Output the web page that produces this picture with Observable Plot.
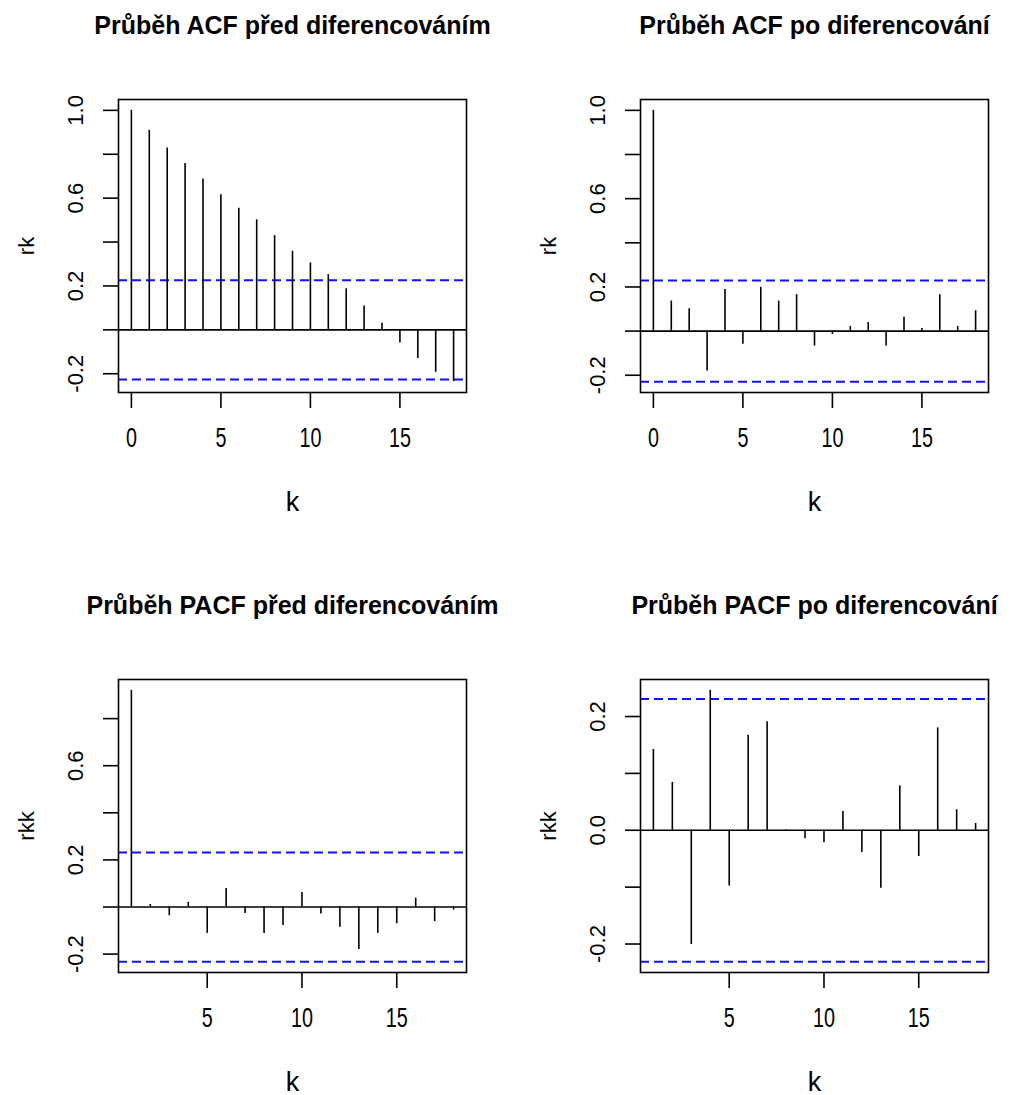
<!DOCTYPE html>
<html>
<head>
<meta charset="utf-8">
<script src="https://cdn.jsdelivr.net/npm/d3@7"></script>
<script src="https://cdn.jsdelivr.net/npm/@observablehq/plot@0.6"></script>
<style>
html, body { margin: 0; padding: 0; background: #fff; overflow: hidden; }
#root { position: relative; width: 1027px; height: 1095px; background: #fff; }
#root > svg { position: absolute; }
</style>
</head>
<body>
<div id="root"></div>
<script>
// ---- data ----
const titles = [
  "Průběh ACF před diferencováním",
  "Průběh ACF po diferencování",
  "Průběh PACF před diferencováním",
  "Průběh PACF po diferencování"
];
const yLabelAcf = "rk";
const yLabelPacf = "rkk";
const xLabel = "k";

const acfLags = [0, 1, 2, 3, 4, 5, 6, 7, 8, 9, 10, 11, 12, 13, 14, 15, 16, 17, 18];
const pacfLags = [1, 2, 3, 4, 5, 6, 7, 8, 9, 10, 11, 12, 13, 14, 15, 16, 17, 18];

const acfBefore = [1.000, 0.909, 0.829, 0.758, 0.687, 0.616, 0.554, 0.501, 0.429, 0.358,
                   0.305, 0.252, 0.187, 0.109, 0.030, -0.060, -0.130, -0.193, -0.236];
const acfAfter = [1.000, 0.136, 0.101, -0.181, 0.189, -0.060, 0.198, 0.136, 0.165, -0.068,
                  -0.015, 0.021, 0.039, -0.068, 0.063, 0.012, 0.165, 0.021, 0.092];
const pacfBefore = [0.920, 0.011, -0.037, 0.020, -0.112, 0.079, -0.028, -0.112, -0.079,
                    0.062, -0.030, -0.086, -0.180, -0.112, -0.071, 0.038, -0.062, -0.013];
const pacfAfter = [0.142, 0.084, -0.201, 0.246, -0.098, 0.167, 0.191, 0.001, -0.015,
                   -0.022, 0.033, -0.039, -0.102, 0.078, -0.046, 0.180, 0.036, 0.012];

// confidence bounds (blue dashed lines)
const climAcfBefore = 0.226;
const climAcfAfter = 0.229;
const climPacfBefore = 0.232;
const climPacfAfter = 0.231;

// tick values
const xTicksAcf = [0, 5, 10, 15];
const xTicksPacf = [5, 10, 15];
const yTicksAcf = [-0.2, 0, 0.2, 0.4, 0.6, 0.8, 1.0];
const yTickLabelsAcf = [-0.2, 0.2, 0.6, 1.0];
const yTicksPacfBefore = [-0.2, 0, 0.2, 0.4, 0.6, 0.8];
const yTickLabelsPacfBefore = [-0.2, 0.2, 0.6];
const yTicksPacfAfter = [-0.2, -0.1, 0, 0.1, 0.2];
const yTickLabelsPacfAfter = [-0.2, 0.0, 0.2];

// ---- drawing ----
const FONT = "'Liberation Sans', Arial, Helvetica, sans-serif";

function extend(lo, hi) {
  const e = (hi - lo) * 0.04;
  return [lo - e, hi + e];
}

function panel(cfg) {
  const data = cfg.lags.map((k, i) => ({k, v: cfg.values[i]}));
  const ydom = extend(Math.min(-cfg.clim, d3.min(cfg.values)), Math.max(cfg.clim, d3.max(cfg.values)));
  const xdom = extend(d3.min(cfg.lags), d3.max(cfg.lags));
  const svg = Plot.plot({
    width: cfg.width,
    height: cfg.height,
    marginLeft: 118,
    marginRight: cfg.width - 466,
    marginTop: 99,
    marginBottom: cfg.height - 392,
    style: {fontFamily: FONT, background: "transparent", overflow: "visible", color: "black"},
    x: {domain: xdom, label: null},
    y: {domain: ydom, label: null},
    marks: [
      Plot.ruleY([cfg.clim, -cfg.clim], {stroke: "#1010ff", strokeWidth: 2, strokeDasharray: "9,5"}),
      Plot.ruleY([0], {stroke: "black", strokeWidth: 1.6}),
      Plot.ruleX(data, {x: "k", y1: 0, y2: "v", stroke: "black", strokeWidth: 1.6}),
      Plot.frame({stroke: "black", strokeWidth: 1.6}),
      Plot.axisX({ticks: cfg.xTicks, tickSize: 16, tickPadding: 19, fontSize: 27, label: null,
                  tickFormat: d3.format("d"), strokeWidth: 1.6}),
      Plot.axisY({ticks: cfg.yTicks, tickSize: 15, tickFormat: () => "", label: null, strokeWidth: 1.6}),
      Plot.text(cfg.yLabels, {y: d => d, text: d => d3.format(".1f")(d).replace("−", "-"),
                frameAnchor: "left", dx: -43, rotate: -90, textAnchor: "middle",
                lineAnchor: "middle", fontSize: 22, fill: "black"}),
      Plot.text([cfg.title], {text: d => d, frameAnchor: "top", dy: -66, lineAnchor: "bottom",
                fontSize: 25, fontWeight: "bold", fill: "black", ariaLabel: "ptitle"}),
      Plot.text([xLabel], {text: d => d, frameAnchor: "bottom", dy: 110, lineAnchor: "middle",
                fontSize: 27, fill: "black"}),
      Plot.text([cfg.ylab], {text: d => d, frameAnchor: "left", dx: -92, rotate: -90,
                textAnchor: "middle", lineAnchor: "middle", fontSize: 22, fill: "black"})
    ]
  });
  svg.style.left = cfg.left + "px";
  svg.style.top = cfg.top + "px";
  d3.select(svg).selectAll('g[aria-label="ptitle"] text')
    .attr("textLength", cfg.titleWidth).attr("lengthAdjust", "spacingAndGlyphs");
  d3.select(svg).selectAll('g[aria-label="x-axis tick label"] text')
    .each(function () {
      const s = this.textContent;
      if (s.length) d3.select(this).attr("textLength", 11 * s.length).attr("lengthAdjust", "spacingAndGlyphs");
    });
  document.getElementById("root").appendChild(svg);
}

panel({left: 0, top: 0, width: 513, height: 547, lags: acfLags, values: acfBefore,
       clim: climAcfBefore, title: titles[0], titleWidth: 445, ylab: yLabelAcf,
       xTicks: xTicksAcf, yTicks: yTicksAcf, yLabels: yTickLabelsAcf});
panel({left: 522, top: 0, width: 505, height: 547, lags: acfLags, values: acfAfter,
       clim: climAcfAfter, title: titles[1], titleWidth: 397, ylab: yLabelAcf,
       xTicks: xTicksAcf, yTicks: yTicksAcf, yLabels: yTickLabelsAcf});
panel({left: 0, top: 580, width: 513, height: 515, lags: pacfLags, values: pacfBefore,
       clim: climPacfBefore, title: titles[2], titleWidth: 465, ylab: yLabelPacf,
       xTicks: xTicksPacf, yTicks: yTicksPacfBefore, yLabels: yTickLabelsPacfBefore});
panel({left: 522, top: 580, width: 505, height: 515, lags: pacfLags, values: pacfAfter,
       clim: climPacfAfter, title: titles[3], titleWidth: 415, ylab: yLabelPacf,
       xTicks: xTicksPacf, yTicks: yTicksPacfAfter, yLabels: yTickLabelsPacfAfter});
</script>
</body>
</html>
